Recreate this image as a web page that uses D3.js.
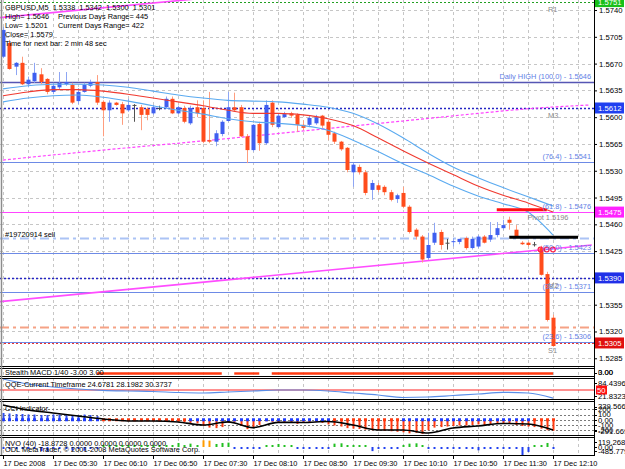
<!DOCTYPE html>
<html>
<head>
<meta charset="utf-8">
<script src="https://cdnjs.cloudflare.com/ajax/libs/d3/7.8.5/d3.min.js"></script>
<style>
  body { margin: 0; background: #fff; }
  svg { display: block; font-family: "Liberation Sans", Arial, sans-serif; }
  text { white-space: pre; }
</style>
</head>
<body>
<script>
// GBPUSD M5, 17 Dec 2008, bars 04:50 .. 12:10 (one bar = 5 min)
const opens = [
  1.5679,1.5697,1.5666,1.5671,1.5643,1.5647,1.5656,1.5650,1.5633,1.5639,
  1.5643,1.5642,1.5621,1.5633,1.5641,1.5646,1.5620,1.5609,1.5619,1.5617,
  1.5609,1.5616,1.5613,1.5611,1.5605,1.5612,1.5613,1.5624,1.5605,1.5612,
  1.5592,1.5613,1.5612,1.5570,1.5568,1.5578,1.5595,1.5613,1.5613,1.5575,
  1.5557,1.5591,1.5566,1.5619,1.5587,1.5600,1.5605,1.5603,1.5590,1.5590,
  1.5592,1.5602,1.5594,1.5579,1.5568,1.5560,1.5528,1.5535,1.5528,1.5505,
  1.5511,1.5509,1.5502,1.5493,1.5501,1.5483,1.5453,1.5444,1.5416,1.5436,
  1.5450,1.5436,1.5437,1.5437,1.5442,1.5429,1.5431,1.5444,1.5440,1.5446,
  1.5455,1.5466,1.5453,1.5436,1.5436,1.5434,1.5429,1.5395,1.5338];
const highs = [
  1.5718,1.5701,1.5672,1.5679,1.5653,1.5671,1.5664,1.5651,1.5645,1.5659,
  1.5659,1.5645,1.5638,1.5645,1.5649,1.5655,1.5622,1.5622,1.5620,1.5620,
  1.5624,1.5617,1.5616,1.5613,1.5616,1.5615,1.5627,1.5627,1.5615,1.5615,
  1.5615,1.5622,1.5622,1.5633,1.5583,1.5596,1.5633,1.5632,1.5616,1.5578,
  1.5591,1.5594,1.5622,1.5622,1.5605,1.5607,1.5607,1.5605,1.5596,1.5602,
  1.5603,1.5603,1.5596,1.5581,1.5569,1.5561,1.5540,1.5538,1.5531,1.5518,
  1.5514,1.5511,1.5505,1.5500,1.5509,1.5485,1.5455,1.5446,1.5449,1.5462,
  1.5453,1.5441,1.5442,1.5441,1.5444,1.5444,1.5446,1.5446,1.5463,1.5463,
  1.5466,1.5470,1.5459,1.5438,1.5437,1.5437,1.5432,1.5398,1.5342];
const lows = [
  1.5677,1.5662,1.5655,1.5642,1.5639,1.5645,1.5643,1.5630,1.5630,1.5636,
  1.5641,1.5617,1.5617,1.5632,1.5639,1.5616,1.5575,1.5594,1.5615,1.5590,
  1.5607,1.5594,1.5583,1.5596,1.5603,1.5609,1.5612,1.5604,1.5604,1.5592,
  1.5590,1.5600,1.5566,1.5566,1.5562,1.5575,1.5594,1.5607,1.5574,1.5540,
  1.5555,1.5556,1.5564,1.5587,1.5586,1.5599,1.5599,1.5581,1.5583,1.5587,
  1.5590,1.5586,1.5570,1.5565,1.5556,1.5528,1.5509,1.5525,1.5498,1.5492,
  1.5502,1.5498,1.5490,1.5488,1.5481,1.5448,1.5440,1.5410,1.5414,1.5433,
  1.5427,1.5427,1.5431,1.5434,1.5427,1.5427,1.5429,1.5435,1.5437,1.5443,
  1.5453,1.5453,1.5442,1.5433,1.5431,1.5431,1.5393,1.5333,1.5300];
const closes = [
  1.5714,1.5663,1.5671,1.5643,1.5649,1.5658,1.5646,1.5633,1.5641,1.5645,
  1.5646,1.5619,1.5633,1.5642,1.5646,1.5619,1.5609,1.5619,1.5616,1.5605,
  1.5616,1.5616,1.5603,1.5603,1.5613,1.5612,1.5624,1.5605,1.5613,1.5594,
  1.5612,1.5605,1.5568,1.5568,1.5579,1.5594,1.5613,1.5609,1.5575,1.5557,
  1.5590,1.5566,1.5616,1.5590,1.5602,1.5604,1.5602,1.5590,1.5586,1.5599,
  1.5600,1.5589,1.5577,1.5568,1.5558,1.5531,1.5538,1.5528,1.5501,1.5514,
  1.5505,1.5502,1.5492,1.5498,1.5483,1.5450,1.5444,1.5414,1.5433,1.5449,
  1.5433,1.5436,1.5438,1.5441,1.5429,1.5441,1.5444,1.5436,1.5446,1.5455,
  1.5459,1.5462,1.5444,1.5434,1.5433,1.5434,1.5394,1.5335,1.5301];

const xTickBars = [0, 8, 16, 24, 32, 40, 48, 56, 64, 72, 80, 88];
const xTickLabels = ['17 Dec 2008', '17 Dec 05:30', '17 Dec 06:10', '17 Dec 06:50', '17 Dec 07:30', '17 Dec 08:10',
  '17 Dec 08:50', '17 Dec 09:30', '17 Dec 10:10', '17 Dec 10:50', '17 Dec 11:30', '17 Dec 12:10'];
const priceTicks = [1.5740, 1.5705, 1.5670, 1.5635, 1.5600, 1.5565, 1.5530, 1.5495, 1.5460, 1.5425, 1.5390, 1.5355, 1.5320, 1.5285];

// envelope + MA, read every 4th bar
const sampleBars = [0,4,8,12,16,20,24,28,32,36,40,44,48,52,56,60,64,68,72,76,80,84,88];
const maUpper = [1.5637,1.5641,1.5643,1.5643,1.5642,1.5639,1.5634,1.5629,1.5625,1.5622,1.5621,1.5620,1.5617,1.5613,1.5605,1.5591,1.5573,1.5553,1.5535,1.5521,1.5508,1.5496,1.5484];
const maMid   = [1.5628,1.5633,1.5636,1.5636,1.5634,1.5630,1.5625,1.5620,1.5615,1.5609,1.5605,1.5605,1.5603,1.5598,1.5589,1.5573,1.5556,1.5540,1.5525,1.5510,1.5498,1.5488,1.5476];
const maLower = [1.5620,1.5625,1.5628,1.5629,1.5626,1.5621,1.5615,1.5609,1.5604,1.5598,1.5594,1.5592,1.5589,1.5583,1.5570,1.5555,1.5539,1.5525,1.5510,1.5497,1.5487,1.5476,1.5446];

// long magenta dotted average
const slowBars = [0, 16, 32, 48, 64, 76, 84, 94];
const slowVals = [1.5544, 1.5557, 1.5569, 1.5582, 1.5595, 1.5605, 1.5611, 1.5616];

// channel trend lines: [bar, price] end points
const chanLow = [[-0.5, 1.5359], [94.2, 1.5433]];
const chanHigh = [[-0.5, 1.5730], [94.2, 1.5804]];

// horizontal levels
const levelNames  = ['R1', 'Daily HIGH', 'M3', '76.4', '61.8', 'sell', '50.0', 'M2', '38.2', 'order', '23.6', 'S1'];
const levelPrices = [1.5751, 1.5646, 1.5612, 1.5541, 1.5476, 1.5442, 1.5423, 1.5390, 1.5371, 1.5326, 1.5306, 1.5305];
const fiboLevels = ['Daily HIGH', '76.4', '61.8', '50.0', '38.2', '23.6'];
const fiboTexts  = ['Daily HIGH (100.0) - 1.5646', '(76.4) - 1.5541', '(61.8) - 1.5476', '(50.0) - 1.5423', '(38.2) - 1.5371', '(23.6) - 1.5306'];
const pivotNames = ['R1', 'M3', 'M2', 'S1'];
const boxLevels = ['R1', 'M3', '61.8', 'M2', 'S1'];
const boxTexts  = ['1.5751', '1.5612', '1.5475', '1.5390', '1.5305'];

// drawn objects
const redBar = { from: 79, to: 87, price: 1.5479 };
const blackBar = { from: 81, to: 92, price: 1.5443 };
const closeMarkBars = [86, 87, 88];
const closeMarkPrice = 1.5427;

// Stealth MACD: runs of bars where the signal is on
const stealthRuns = [[15, 35], [37, 41], [43, 88]];

// QQE, read every 4th bar
const qqeVals = [84.4, 68.8, 59.4, 53.1, 49.0, 46.9, 45.3, 42.2, 40.6, 43.7, 46.9, 50.0, 50.0, 46.9, 40.6, 34.4, 26.6, 28.1, 32.8, 37.5, 42.8, 40.6, 24.7];

// CCI
const cciLine = [283, 187, 130, 73, 15, -23, -23, -42, -100, -40, -150, -50, -52, -33, -100, -195, -195, -252, -157, -119, -71, -80, -195];
const cciHist = [
  130,120,110,110,100,100,90,90,100,100,
  90,80,90,100,90,70,-20,-15,-10,-20,
  -15,-25,-30,-25,-20,-20,-15,-30,-40,-45,
  -60,-70,-120,-150,-160,-140,-60,-40,-120,-180,
  -150,-100,-30,-40,-50,-60,-60,-80,-60,-50,
  -40,-60,-90,-110,-130,-160,-170,-175,-190,-200,
  -200,-210,-220,-230,-240,-260,-250,-270,-200,-150,
  -140,-130,-120,-110,-110,-100,-90,-100,-90,-80,
  -70,-80,-100,-120,-130,-140,-170,-200,-210];
const cciTrendRuns = [[0, 15, 1], [16, 29, -1], [30, 52, 1], [53, 63, -1], [64, 84, 1], [85, 88, -1]];
const cciLevels = [200, 100, 0, -100, -200];

// NVO
const nvoVals = [
  -15,-20,-15,-15,-20,-20,-250,-280,-20,-15,
  -15,-220,-20,-230,-15,-15,8,10,8,6,
  10,8,6,8,10,8,6,8,60,15,
  50,15,100,95,45,60,65,-15,-20,-15,
  -15,-20,10,12,45,12,10,-15,-15,-20,
  -15,-20,-15,50,55,10,8,10,8,-250,
  -15,-20,-15,-20,12,50,55,10,-15,-20,
  -15,-20,-15,-20,-15,-15,-200,-15,-20,-15,
  -20,-15,-20,-485,-300,10,8,60,-20];

const W = 625, H = 469;
const plotRight = 594;
const FS = 7.4;

const svg = d3.select('body').append('svg').attr('width', W).attr('height', H);
const defs = svg.append('defs');

const x = d3.scaleLinear().domain([0, 88]).range([3, 553]);
const y = d3.scaleLinear().domain([1.52749, 1.57531]).range([366, 0]);
const qqeY = d3.scaleLinear().domain([21.8323, 84.4396]).range([399, 379]);
const cciY = d3.scaleLinear().domain([-291.669, 339.5669]).range([435, 402]);
const nvoY = d3.scaleLinear().domain([-485.7796, 0, 119.2685]).range([455, 447, 439]);
const px = i => Math.round(x(i)) + 0.5;
const py = p => Math.round(y(p)) + 0.5;

function panel(id, top, bottom) {
  defs.append('clipPath').attr('id', id).append('rect')
    .attr('x', 0).attr('y', top).attr('width', plotRight).attr('height', bottom - top);
  return svg.append('g').attr('clip-path', `url(#${id})`);
}

// grid
const grid = svg.append('g').attr('stroke', '#c6c6c6').attr('stroke-dasharray', '3,3');
grid.selectAll('line.v').data(d3.range(0, 95, 4)).join('line').attr('class', 'v')
  .attr('x1', d => px(d)).attr('x2', d => px(d)).attr('y1', 0).attr('y2', 455);
grid.selectAll('line.h').data(priceTicks).join('line').attr('class', 'h')
  .attr('x1', 0).attr('x2', plotRight).attr('y1', d => py(d)).attr('y2', d => py(d));

// ---------- main window ----------
const main = panel('clipMain', 0, 366);

const levelStyle = {
  'R1': ['#22a022', 1, '2,2'],
  'Daily HIGH': ['#5656b4', 1.6, null],
  'M3': ['#2424c4', 1.4, '2,2'],
  '76.4': ['#6d8ae6', 1.2, null],
  '61.8': ['#ff44ff', 1.2, null],
  'sell': ['#abc3f5', 2, '9,4,3,4'],
  '50.0': ['#6d8ae6', 1.2, null],
  'M2': ['#2424c4', 1.4, '2,2'],
  '38.2': ['#6d8ae6', 1.2, null],
  'order': ['#f5a285', 2, '9,4,3,4'],
  '23.6': ['#6d8ae6', 1.2, null],
  'S1': ['#e83030', 1.2, '2,2']
};
const levels = levelNames.map((n, k) => ({ name: n, price: levelPrices[k] }));
main.append('g').selectAll('line').data(levels).join('line')
  .attr('x1', 0).attr('x2', plotRight)
  .attr('y1', d => py(d.price)).attr('y2', d => py(d.price))
  .attr('stroke', d => levelStyle[d.name][0])
  .attr('stroke-width', d => levelStyle[d.name][1])
  .attr('stroke-dasharray', d => levelStyle[d.name][2]);

// channel
[chanLow, chanHigh].forEach(c => {
  main.append('line')
    .attr('x1', x(c[0][0])).attr('y1', y(c[0][1]))
    .attr('x2', x(c[1][0])).attr('y2', y(c[1][1]))
    .attr('stroke', '#ff4cff').attr('stroke-width', 1.6);
});

// slow average
main.append('path')
  .datum(slowBars.map((b, k) => [b, slowVals[k]]))
  .attr('d', d3.line().x(d => x(d[0])).y(d => y(d[1])).curve(d3.curveMonotoneX))
  .attr('fill', 'none').attr('stroke', '#ff44ff').attr('stroke-width', 1.2).attr('stroke-dasharray', '3,2');

// candles
const bars = opens.map((o, i) => ({ i, o, h: highs[i], l: lows[i], c: closes[i] }));
const bullBody = '#3f5ff0', bullWick = '#8ea6f4', bearBody = '#ff4c1c', bearWick = '#ff9d7e', dojiCol = '#505050';
const gC = main.append('g');
gC.selectAll('line').data(bars).join('line')
  .attr('x1', d => px(d.i)).attr('x2', d => px(d.i))
  .attr('y1', d => y(d.h)).attr('y2', d => y(d.l))
  .attr('stroke', d => d.c > d.o ? bullWick : d.c < d.o ? bearWick : dojiCol);
gC.selectAll('rect').data(bars).join('rect')
  .attr('x', d => Math.round(x(d.i)) - 1.5).attr('width', 4)
  .attr('y', d => y(Math.max(d.o, d.c)))
  .attr('height', d => Math.max(1, Math.abs(y(d.o) - y(d.c))))
  .attr('fill', d => d.c > d.o ? bullBody : d.c < d.o ? bearBody : dojiCol);

// envelope lines
const maLine = d3.line().x(d => x(d[0])).y(d => y(d[1])).curve(d3.curveMonotoneX);
[[maUpper, '#5aaaf0'], [maMid, '#f03a30'], [maLower, '#5aaaf0']].forEach(([vals, col]) => {
  main.append('path').datum(sampleBars.map((b, k) => [b, vals[k]]))
    .attr('d', maLine).attr('fill', 'none').attr('stroke', col).attr('stroke-width', 1.1);
});

// drawn objects
main.append('line')
  .attr('x1', x(redBar.from)).attr('x2', x(redBar.to))
  .attr('y1', y(redBar.price)).attr('y2', y(redBar.price))
  .attr('stroke', '#ff1010').attr('stroke-width', 3);
main.append('line')
  .attr('x1', x(blackBar.from)).attr('x2', x(blackBar.to))
  .attr('y1', y(blackBar.price)).attr('y2', y(blackBar.price))
  .attr('stroke', '#000').attr('stroke-width', 3);
main.selectAll('circle.mark').data(closeMarkBars).join('circle').attr('class', 'mark')
  .attr('cx', d => x(d)).attr('cy', y(closeMarkPrice)).attr('r', 2.4)
  .attr('fill', 'none').attr('stroke', '#ff2048').attr('stroke-width', 1.2);

// level texts
const fibo = fiboLevels.map((n, k) => ({ price: levelPrices[levelNames.indexOf(n)], text: fiboTexts[k] }));
main.append('g').selectAll('text').data(fibo).join('text')
  .attr('x', plotRight - 3).attr('y', d => y(d.price) - 3)
  .attr('text-anchor', 'end').attr('font-size', FS).attr('fill', '#5f7fe6')
  .text(d => d.text);
main.append('g').selectAll('text').data(pivotNames).join('text')
  .attr('x', x(87.2)).attr('y', d => y(levelPrices[levelNames.indexOf(d)]) + 10)
  .attr('font-size', FS).attr('fill', '#8a8a8a').text(d => d);
main.append('text').attr('x', x(83.9)).attr('y', y(1.5470) + 3)
  .attr('font-size', FS).attr('fill', '#8a8a8a').text('Pivot 1.5196');
main.append('text').attr('x', 5).attr('y', y(1.5448) + 3)
  .attr('font-size', FS).attr('fill', '#000').text('#19720914 sell');

// header block
const hdr = svg.append('g').attr('font-size', FS).attr('fill', '#000');
[['GBPUSD,M5  1.5338  1.5342  1.5300  1.5301', 5, 7],
 ['High= 1.5646', 5, 16], ['Previous Days Range= 445', 58, 16],
 ['Low= 1.5201', 5, 25], ['Current Days Range= 422', 58, 25],
 ['Close= 1.5579', 5, 34], ['Time for next bar: 2 min 48 sec', 5, 43]]
  .forEach(([t, tx, ty]) => hdr.append('text').attr('x', tx).attr('y', ty + 2.6).text(t));

// ---------- Stealth MACD ----------
const st = panel('clipSt', 368, 376);
st.selectAll('line').data(stealthRuns).join('line')
  .attr('x1', d => x(d[0])).attr('x2', d => x(d[1]))
  .attr('y1', 373.5).attr('y2', 373.5).attr('stroke', '#ff3a10').attr('stroke-width', 2.4);
st.append('text').attr('x', 5).attr('y', 375).attr('font-size', FS).text('Stealth MACD 1/40 -3.00 3.00');

// ---------- QQE ----------
const qq = panel('clipQqe', 378, 399);
qq.append('line').attr('x1', 0).attr('x2', plotRight)
  .attr('y1', qqeY(50)).attr('y2', qqeY(50)).attr('stroke', '#ff2020');
qq.append('path').datum(sampleBars.map((b, k) => [b, qqeVals[k]]))
  .attr('d', d3.line().x(d => x(d[0])).y(d => qqeY(d[1])).curve(d3.curveMonotoneX))
  .attr('fill', 'none').attr('stroke', '#5a8ee8').attr('stroke-width', 1.2);
qq.append('text').attr('x', 5).attr('y', 387).attr('font-size', FS)
  .text('QQE-Current Timeframe 24.6781 28.1982 30.3737');

// ---------- CCI ----------
const cc = panel('clipCci', 401, 435);
cc.selectAll('line.lvl').data(cciLevels).join('line').attr('class', 'lvl')
  .attr('x1', 0).attr('x2', plotRight)
  .attr('y1', d => Math.round(cciY(d)) + 0.5).attr('y2', d => Math.round(cciY(d)) + 0.5)
  .attr('stroke', '#7a7a7a').attr('stroke-dasharray', '2,2');
cc.selectAll('rect.hist').data(cciHist).join('rect').attr('class', 'hist')
  .attr('x', (d, i) => Math.round(x(i)) - 0.5).attr('width', 2)
  .attr('y', d => Math.min(cciY(d), cciY(0))).attr('height', d => Math.abs(cciY(d) - cciY(0)))
  .attr('fill', d => d >= 0 ? '#3050f0' : '#ff3a10');
const trendMarks = [];
cciTrendRuns.forEach(([a, b, s]) => { for (let i = a; i <= b; i++) trendMarks.push({ i, s }); });
cc.selectAll('rect.tm').data(trendMarks).join('rect').attr('class', 'tm')
  .attr('x', d => Math.round(x(d.i)) - 1).attr('y', cciY(0) - 1.5).attr('width', 3).attr('height', 3)
  .attr('fill', d => d.s > 0 ? '#1f3cff' : '#ff3a10');
cc.append('path').datum(sampleBars.map((b, k) => [b, cciLine[k]]))
  .attr('d', d3.line().x(d => x(d[0])).y(d => cciY(d[1])).curve(d3.curveMonotoneX))
  .attr('fill', 'none').attr('stroke', '#000').attr('stroke-width', 1.6);
cc.append('text').attr('x', 5).attr('y', 411).attr('font-size', FS).text('CCI Indicator');

// ---------- NVO ----------
const nv = panel('clipNvo', 437, 455);
nv.selectAll('rect').data(nvoVals).join('rect')
  .attr('x', (d, i) => Math.round(x(i)) - 0.5).attr('width', 2)
  .attr('y', d => d >= 0 ? Math.min(nvoY(d), nvoY(0) - 2) : nvoY(0))
  .attr('height', d => Math.max(2, Math.abs(nvoY(d) - nvoY(0))))
  .attr('fill', d => d >= 80 ? '#ff9c00' : d > 0 ? '#22c022' : '#2040f0');
nv.append('text').attr('x', 5).attr('y', 445.5).attr('font-size', FS)
  .text('NVO (40) -18.8728 0.0000 0.0000 0.0000 0.0000');
nv.append('text').attr('x', 5).attr('y', 452).attr('font-size', FS)
  .text('ODL MetaTrader, © 2001-2008 MetaQuotes Software Corp.');

// ---------- frames ----------
const frames = svg.append('g').attr('stroke', '#000');
[366.5, 368.5, 376.5, 378.5, 399.5, 401.5, 435.5, 437.5, 455.5].forEach(v =>
  frames.append('line').attr('x1', 0).attr('x2', plotRight).attr('y1', v).attr('y2', v));
frames.append('line').attr('x1', plotRight + 0.5).attr('x2', plotRight + 0.5).attr('y1', 0).attr('y2', 456);
svg.append('line').attr('x1', 1.5).attr('x2', 1.5).attr('y1', 0).attr('y2', 455)
  .attr('stroke', '#8c8c8c').attr('stroke-width', 1.5);

// ---------- right price axis ----------
const yAxis = svg.append('g').attr('transform', `translate(${plotRight},0)`)
  .call(d3.axisRight(y).tickValues(priceTicks).tickSize(3).tickPadding(2).tickFormat(d3.format('.4f')));
yAxis.select('.domain').remove();
yAxis.attr('font-family', null).attr('font-size', null);
yAxis.selectAll('text').attr('font-size', FS + 0.3).attr('fill', '#000');

const boxCol = { 'R1': '#18c018', 'M3': '#2040f0', '61.8': '#ff22ff', 'M2': '#2030e8', 'S1': '#e01010' };
const boxes = boxLevels.map((n, k) => ({ n, p: levelPrices[levelNames.indexOf(n)], t: boxTexts[k] }));
const gb = svg.append('g');
gb.selectAll('rect').data(boxes).join('rect')
  .attr('x', plotRight + 1).attr('width', 29).attr('y', d => y(d.p) - 5.5).attr('height', 11)
  .attr('fill', d => boxCol[d.n]);
gb.selectAll('text').data(boxes).join('text')
  .attr('x', plotRight + 4).attr('y', d => y(d.p) + 3).attr('font-size', FS + 0.3).attr('fill', '#fff')
  .text(d => d.t);

// sub window scale labels
const subLabels = [
  ['3.00', 372.5], ['0.00', 372.5],
  ['84.4396', qqeY.range()[1] + 4], ['21.8323', qqeY.range()[0] - 3],
  ['339.5669', cciY(339.5669) + 4.5], ['200', cciY(200)], ['100', cciY(100)], ['0.00', cciY(0)],
  ['-100', cciY(-100)], ['-200', cciY(-200)], ['-291.669', cciY(-291.669) - 4],
  ['119.2685', nvoY(119.2685) + 3], ['0.00', nvoY(0)], ['-485.7796', nvoY(-485.7796) - 4]
];
const sl = svg.append('g').attr('font-size', FS + 0.3).attr('fill', '#000');
subLabels.forEach(([t, v]) => {
  sl.append('text').attr('x', plotRight + 4).attr('y', v + 2.8).text(t);
  sl.append('line').attr('x1', plotRight).attr('x2', plotRight + 3).attr('y1', Math.round(v) + 0.5).attr('y2', Math.round(v) + 0.5).attr('stroke', '#000');
});
const q50 = svg.append('g');
q50.append('rect').attr('x', plotRight + 2).attr('y', qqeY(50) - 4.5).attr('width', 11).attr('height', 9).attr('fill', '#ff1010');
q50.append('text').attr('x', plotRight + 3).attr('y', qqeY(50) + 2.8).attr('font-size', FS + 0.3).attr('fill', '#fff').text('50');

// ---------- time axis ----------
const gx = svg.append('g');
gx.selectAll('line').data(xTickBars).join('line')
  .attr('x1', d => px(d)).attr('x2', d => px(d)).attr('y1', 455).attr('y2', 459).attr('stroke', '#000');
gx.selectAll('text').data(xTickBars).join('text')
  .attr('x', d => x(d) + 0.5).attr('y', 466).attr('font-size', FS).attr('fill', '#000')
  .text((d, k) => xTickLabels[k]);
</script>
</body>
</html>
